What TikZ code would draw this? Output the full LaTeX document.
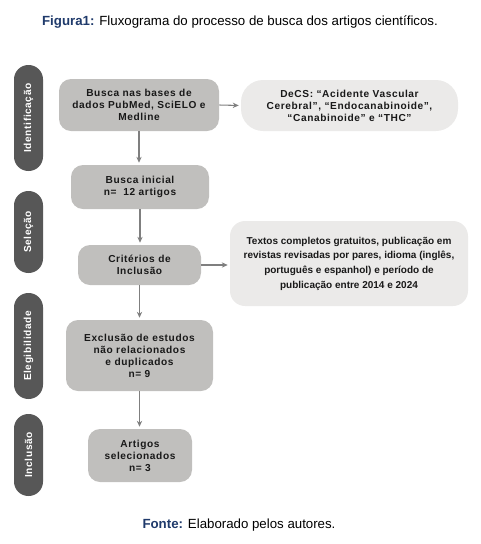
\documentclass[tikz,border=0pt]{standalone}
\usepackage{fontspec}
\setmainfont{Liberation Sans}
\newfontfamily\caixafont{Liberation Sans}[LetterSpace=6]
\usetikzlibrary{arrows.meta}
\definecolor{cinzacaixa}{HTML}{C0BFBD}
\definecolor{cinzaclaro}{HTML}{EBEAE9}
\definecolor{cinzafase}{HTML}{575757}
\definecolor{cinzaseta}{HTML}{7F7F7F}
\definecolor{azultitulo}{HTML}{1F3A6B}
\tikzset{
  caixa/.style={fill=cinzacaixa, rounded corners=12*0.75pt, align=center, inner sep=0pt,
    font=\caixafont\bfseries\fontsize{7.6}{9}\selectfont, text=black!90},
  nota/.style={caixa, fill=cinzaclaro},
  fase/.style={fill=cinzafase, rotate=90, minimum height=29*0.75pt, rounded corners=14.4*0.75pt,
    inner sep=0pt, text=white, font=\caixafont\bfseries\fontsize{7.6}{9}\selectfont},
  seta/.style={draw=cinzaseta, line width=0.8pt, -{Stealth[length=4.5pt,width=4pt]}, shorten >=1.5pt}
}
\begin{document}
\begin{tikzpicture}[x=0.75pt, y=-0.75pt]
  \useasboundingbox (0,0) rectangle (481,544);
  % titulo e fonte
  \node (titulo) at (240,22) {\fontsize{9.95}{12}\selectfont\textcolor{azultitulo}{\textbf{Figura1:}} Fluxograma do processo de busca dos artigos científicos.};
  \node (fonte) at (239,525) {\fontsize{9.95}{12}\selectfont\textcolor{azultitulo}{\textbf{Fonte:}} Elaborado pelos autores.};

  % fases (barras laterais)
  \node[fase, minimum width=106*0.75pt] (identificacao) at (28.5,118) {Identificação};
  \node[fase, minimum width=82*0.75pt] (selecao) at (28.5,232) {Seleção};
  \node[fase, minimum width=106*0.75pt] (elegibilidade) at (28.5,346) {Elegibilidade};
  \node[fase, minimum width=82*0.75pt] (inclusao) at (28.5,455) {Inclusão};

  % caixas do fluxo
  \node[caixa, minimum width=160*0.75pt, minimum height=52*0.75pt] (busca) at (139,105)
    {Busca nas bases de\\dados PubMed, SciELO e\\Medline};
  \node[nota, minimum width=217*0.75pt, minimum height=51*0.75pt, rounded corners=22*0.75pt] (decs) at (349.5,105.5)
    {DeCS: “Acidente Vascular\\Cerebral”, “Endocanabinoide”,\\“Canabinoide” e “THC”};
  \node[caixa, minimum width=138*0.75pt, minimum height=44*0.75pt] (inicial) at (140,187)
    {Busca inicial\\n=\ \ 12 artigos};
  \node[caixa, minimum width=123*0.75pt, minimum height=40*0.75pt] (criterios) at (139.5,265)
    {Critérios de\\Inclusão};
  \node[nota, minimum width=238*0.75pt, minimum height=85*0.75pt, rounded corners=15*0.75pt,
    font=\bfseries\fontsize{7.5}{11}\selectfont] (textos) at (349,263.5)
    {Textos completos gratuitos, publicação em\\revistas revisadas por pares, idioma (inglês,\\português e espanhol) e período de\\publicação entre 2014 e 2024};
  \node[caixa, minimum width=147*0.75pt, minimum height=71*0.75pt] (exclusao) at (139.5,355.5)
    {Exclusão de estudos\\não relacionados\\e duplicados\\n= 9};
  \node[caixa, minimum width=104*0.75pt, minimum height=53*0.75pt] (artigos) at (140,455.5)
    {Artigos\\selecionados\\n= 3};

  % setas
  \draw[seta] (busca.south) -- (busca.south |- inicial.north);
  \draw[seta] (busca.east) -- (decs.west);
  \draw[seta] (inicial.south) -- (inicial.south |- criterios.north);
  \draw[seta] (criterios.east) -- (criterios.east -| textos.west);
  \draw[seta] (criterios.south) -- (criterios.south |- exclusao.north);
  \draw[seta] (exclusao.south) -- (exclusao.south |- artigos.north);
\end{tikzpicture}
\end{document}
